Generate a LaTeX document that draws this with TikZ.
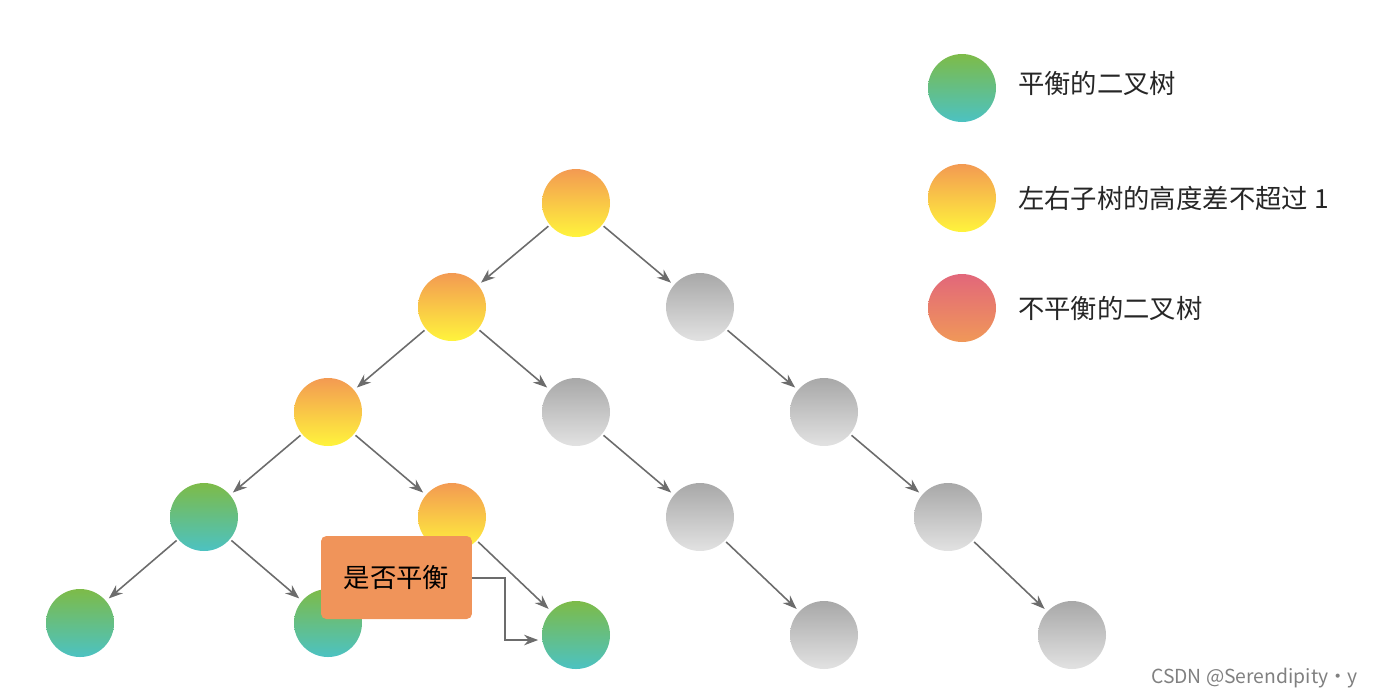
\documentclass[tikz,border=0pt]{standalone}
\usepackage{fontspec}
\setmainfont{Liberation Sans}
\newfontfamily\cjk{Noto Sans CJK SC}
\usetikzlibrary{arrows.meta}
\definecolor{gA}{HTML}{7DBB48}\definecolor{gB}{HTML}{4CC2C2}
\definecolor{oA}{HTML}{F39A52}\definecolor{oB}{HTML}{FFF43C}
\definecolor{hA}{HTML}{A8A8A8}\definecolor{hB}{HTML}{E2E2E2}
\definecolor{rA}{HTML}{E2677A}\definecolor{rB}{HTML}{F09858}
\definecolor{boxc}{HTML}{F0945A}
\tikzset{
 nd/.style={circle,minimum size=1.36cm,inner sep=0pt},
 gr/.style={nd,top color=gA,bottom color=gB},
 og/.style={nd,top color=oA,bottom color=oB},
 gy/.style={nd,top color=hA,bottom color=hB},
 rd/.style={nd,top color=rA,bottom color=rB},
 ed/.style={draw=gray!85!black,line width=0.9pt,-{Stealth[length=8pt,width=6pt]},shorten >=2pt,shorten <=1pt},
 lg/.style={anchor=west,font=\cjk\fontsize{15}{18}\selectfont,text=black!85}
}
\begin{document}
\begin{tikzpicture}[x=0.02cm,y=-0.02cm]
\useasboundingbox (0,0) rectangle (1378,698);
\node[og] (r) at (576,203) {};
\node[og] (a) at (452,307) {};
\node[gy] (b) at (700,307) {};
\node[og] (c) at (328,412) {};
\node[gy] (d) at (576,412) {};
\node[gy] (e) at (824,412) {};
\node[gr] (f) at (204,517) {};
\node[og] (g) at (452,517) {};
\node[gy] (h) at (700,517) {};
\node[gy] (i) at (948,517) {};
\node[gr] (j) at (80,623) {};
\node[gr] (k) at (328,623) {};
\node[gr] (l) at (576,635) {};
\node[gy] (m) at (824,635) {};
\node[gy] (n) at (1072,635) {};
\foreach \s/\t in {r/a,r/b,a/c,a/d,b/e,c/f,c/g,d/h,e/i,f/j,f/k,g/l,h/m,i/n}
  \draw[ed] (\s) -- (\t);
\node[fill=boxc,rounded corners=3pt,minimum width=3.02cm,minimum height=1.66cm,font=\cjk\fontsize{15}{18}\selectfont] (q) at (396.5,577.5) {是否平衡};
\coordinate (q1) at (505,578);
\coordinate (q2) at (505,640);
\draw[ed,shorten <=0pt] (q.east |- q1) -- (q1) -- (q2) -- (l.west |- q2);
\node[gr] (L1) at (962,88) {};
\node[og] (L2) at (962,198) {};
\node[rd] (L3) at (962,308) {};
\node[lg] (T1) at (1012,83) {平衡的二叉树};
\node[lg] (T2) at (1012,198) {左右子树的高度差不超过 1};
\node[lg] (T3) at (1012,308) {不平衡的二叉树};
\node[anchor=east,text=gray,font=\cjk\fontsize{11}{13}\selectfont] (w) at (1364,678) {CSDN @Serendipity·y};
\end{tikzpicture}
\end{document}
